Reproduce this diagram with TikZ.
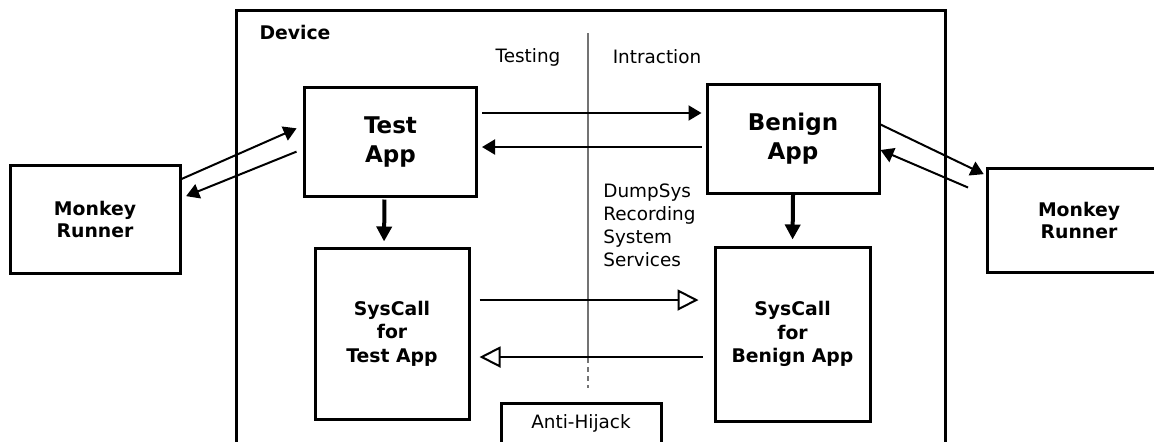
\documentclass[tikz,border=0pt]{standalone}
\usepackage{fontspec}
\setmainfont{DejaVu Sans}
\usetikzlibrary{arrows.meta}

\begin{document}
\begin{tikzpicture}[x=0.5pt, y=-0.5pt,
  box/.style={draw, line width=1.5pt, align=center, inner sep=0pt},
  app/.style={box, font=\fontsize{11.5}{14.5}\selectfont\bfseries, minimum width=86pt, minimum height=54.5pt},
  runner/.style={box, font=\fontsize{9.4}{11}\selectfont\bfseries, minimum width=85pt, minimum height=54pt},
  syscall/.style={box, font=\fontsize{9.4}{11.75}\selectfont\bfseries, minimum width=77pt, minimum height=86pt},
  plain/.style={font=\fontsize{9.2}{11.5}\selectfont, inner sep=0pt},
  flow/.style={line width=1pt, -{Triangle[length=6.5pt, width=7.5pt]}},
  down/.style={line width=2pt, -{Triangle[length=7.5pt, width=7.5pt]}},
  hollow/.style={line width=1pt, -{Triangle[open, length=10.5pt, width=10.5pt]}},
  divider/.style={black!55, line width=0.6pt}]
  \useasboundingbox (0,0) rectangle (1154,441);
  \clip (0,0) rectangle (1154,441);
  \draw[line width=1.5pt] (236,470) -- (236,10) -- (945,10) -- (945,470);
  \node[plain, font=\fontsize{9.4}{11}\selectfont\bfseries] (device) at (295,32) {Device};
  \node[plain] (testing) at (528,57) {Testing};
  \node[plain] (intraction) at (657,57) {Intraction};
  \draw[divider] (588,33) -- (588,358);
  \draw[divider, dashed, dash pattern=on 2.5pt off 2pt] (588,358) -- (588,388);
  \node[plain, align=left, anchor=north west] (dumpsys) at (603,183) {DumpSys\\Recording\\System\\Services};

  \node[app] (test) at (390.5,141.5) {Test\\App};
  \node[app] (benign) at (793,138.5) {Benign\\App};
  \node[runner] (monkeyL) at (95,219) {Monkey\\Runner};
  \node[runner, minimum width=92pt, minimum height=52pt] (monkeyR) at (1079,220) {Monkey\\Runner};
  \node[syscall, minimum height=85.5pt] (sysT) at (392,333.5) {SysCall\\for\\Test App};
  \node[syscall, minimum width=77.5pt, minimum height=87pt] (sysB) at (792.5,334) {SysCall\\for\\Benign App};
  \node[box, plain, line width=1.5pt, minimum width=80pt, minimum height=20pt] (hijack) at (581,423) {Anti-Hijack};

  \draw[flow, shorten <=2pt, shorten >=2pt] ([yshift=14.25pt]test.east) -- ([yshift=12.75pt]benign.west);
  \draw[flow, shorten <=2pt, shorten >=2pt] ([yshift=-4.25pt]benign.west) -- ([yshift=-2.75pt]test.east);
  \draw[down, shorten <=1pt, shorten >=2.5pt] ([xshift=-3pt]test.south) -- ([xshift=-4pt]sysT.north);
  \draw[down, shorten >=3pt] (benign.south) -- (sysB.north);
  \draw[flow, shorten >=3.5pt] ([yshift=20pt]monkeyL.east) -- ([yshift=8pt]test.west);
  \draw[flow, shorten <=3.5pt, shorten >=2.5pt] ([yshift=-3.75pt]test.west) -- ([yshift=10.5pt]monkeyL.east);
  \draw[flow, shorten >=1pt] ([yshift=7pt]benign.east) -- ([yshift=22.5pt]monkeyR.west);
  \draw[flow, shorten <=9.5pt] ([yshift=12.5pt]monkeyR.west) -- ([yshift=-5.75pt]benign.east);
  \draw[hollow, shorten <=4.5pt, shorten >=7.5pt] ([yshift=16.75pt]sysT.east) -- ([yshift=17pt]sysB.west);
  \draw[hollow, shorten <=5.5pt, shorten >=4.5pt] ([yshift=-11.5pt]sysB.west) -- ([yshift=-11.75pt]sysT.east);
\end{tikzpicture}
\end{document}
